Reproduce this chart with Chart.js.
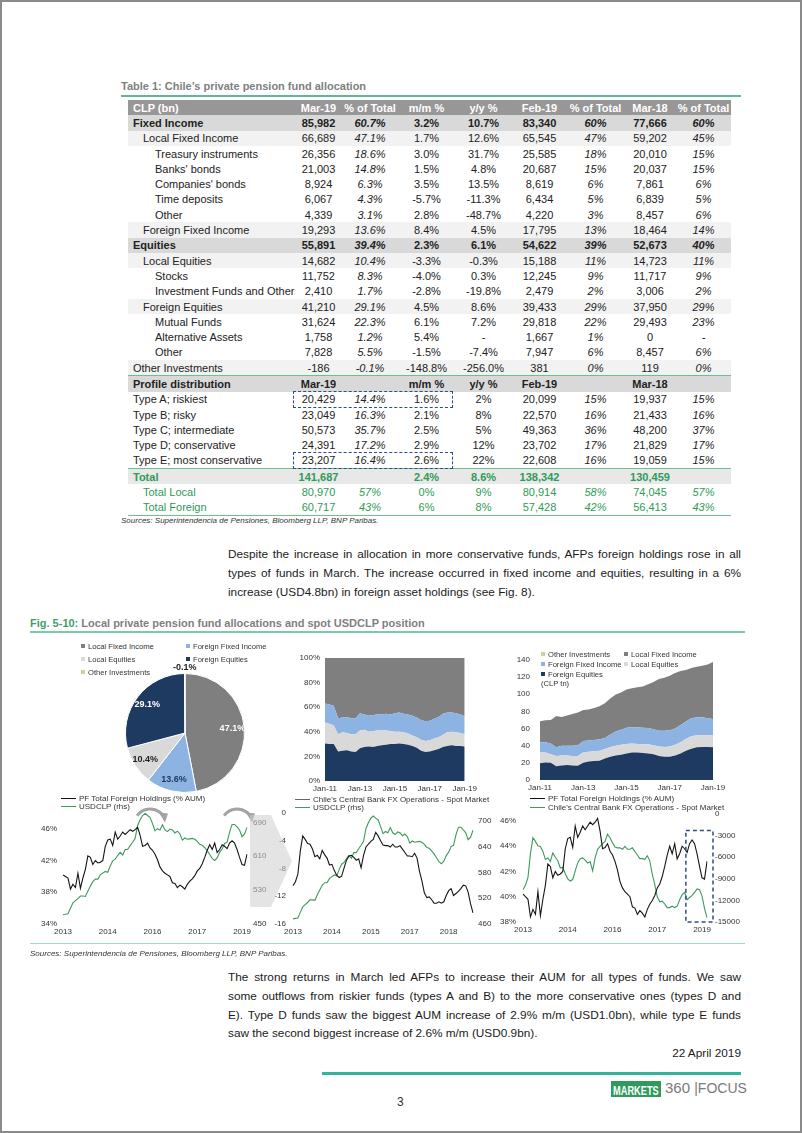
<!DOCTYPE html>
<html>
<head>
<meta charset="utf-8">
<script src="https://cdn.jsdelivr.net/npm/chart.js"></script>
<style>
  html, body { margin: 0; padding: 0; background: #fff; }
  body { width: 802px; height: 1133px; position: relative; overflow: hidden; font-family: "Liberation Sans", Arial, sans-serif; color: #222; }
  .frame { position: absolute; left: 0; top: 0; width: 802px; height: 1133px; box-sizing: border-box; border: 2px solid #8a8a8a; pointer-events: none; }
  .abs { position: absolute; }
  .title { font-size: 11px; font-weight: bold; color: #7f7f7f; }
  .rule { position: absolute; height: 2px; background: #5cb89a; }
  .src { font-size: 8px; font-style: italic; color: #333; }
  .para { font-size: 11.8px; line-height: 18.8px; color: #1a1a1a; }
  .para div { text-align: justify; text-align-last: justify; white-space: nowrap; }
  .para div.end { text-align-last: left; }
  table.t { position: absolute; left: 128px; top: 100px; border-collapse: collapse; table-layout: fixed; width: 603px; font-size: 11px; }
  table.t td { padding: 0; height: 15.3px; line-height: 14px; text-align: center; white-space: nowrap; overflow: hidden; }
  table.t td.lab { text-align: left; padding-left: 5px; }
  .lg { position: absolute; font-size: 7.6px; color: #333; white-space: nowrap; line-height: 10px; }
  .lg.b { font-size: 8px; }
  .sq { display: inline-block; width: 4px; height: 4px; margin-right: 3px; vertical-align: 1px; }
  .ln { display: inline-block; width: 15px; height: 0; border-top: 1.5px solid #111; margin-right: 3px; vertical-align: 2px; }
  .box { position: absolute; border: 1px dashed #2c4d86; }
  canvas { display: block; }
</style>
</head>
<body>
<div class="frame"></div>

<div class="abs title" style="left:121px; top:80px;">Table 1: Chile’s private pension fund allocation</div>
<div class="rule" style="left:121px; top:95px; width:620px;"></div>
<table class="t" id="tbl"></table>
<div class="box" style="left:293px; top:391px; width:158px; height:15px;"></div>
<div class="box" style="left:293px; top:452px; width:158px; height:15px;"></div>
<div class="abs src" style="left:121px; top:516px;">Sources: Superintendencia de Pensiones, Bloomberg LLP, BNP Paribas.</div>

<div class="abs para" style="left:228px; top:545px; width:513px;">
  <div>Despite the increase in allocation in more conservative funds, AFPs foreign holdings rose in all</div>
  <div>types of funds in March. The increase occurred in fixed income and equities, resulting in a 6%</div>
  <div class="end">increase (USD4.8bn) in foreign asset holdings (see Fig. 8).</div>
</div>

<div class="abs title" style="left:30px; top:617px;"><span style="color:#3f9f6a">Fig. 5-10:</span> Local private pension fund allocations and spot USDCLP position</div>
<div class="rule" style="left:30px; top:631px; width:715px; background:#7cc9b0;"></div>

<!-- charts -->
<div class="abs" style="left:115px; top:663px;"><canvas id="pie" width="140" height="140"></canvas></div>
<div class="abs" style="left:290px; top:648px;"><canvas id="pct" width="190" height="148"></canvas></div>
<div class="abs" style="left:500px; top:645px;"><canvas id="abs" width="240" height="151"></canvas></div>
<div class="abs" style="left:30px; top:795px;"><canvas id="c4" width="255" height="145"></canvas></div>
<div class="abs" style="left:270px; top:795px;"><canvas id="c5" width="230" height="145"></canvas></div>
<div class="abs" style="left:495px; top:795px;"><canvas id="c6" width="250" height="145"></canvas></div>

<!-- gray arrow between charts -->
<div class="abs" style="left:250px; top:815px; width:42px; height:92px; background:rgba(205,205,205,0.55); clip-path:polygon(0 0,50% 0,100% 50%,50% 100%,0 100%);"></div>

<!-- legends -->
<div class="lg" style="left:81px; top:642px;"><span class="sq" style="background:#7f7f7f"></span>Local Fixed Income</div>
<div class="lg" style="left:186px; top:642px;"><span class="sq" style="background:#8db3e2"></span>Foreign Fixed Income</div>
<div class="lg" style="left:81px; top:655px;"><span class="sq" style="background:#d9d9d9"></span>Local Equities</div>
<div class="lg" style="left:186px; top:655px;"><span class="sq" style="background:#1f3a60"></span>Foreign Equities</div>
<div class="lg" style="left:81px; top:668px;"><span class="sq" style="background:#c3d69b"></span>Other Investments</div>

<div class="lg" style="left:541px; top:650px;"><span class="sq" style="background:#c3d69b"></span>Other Investments</div>
<div class="lg" style="left:624px; top:650px;"><span class="sq" style="background:#7f7f7f"></span>Local Fixed Income</div>
<div class="lg" style="left:541px; top:660px;"><span class="sq" style="background:#8db3e2"></span>Foreign Fixed Income</div>
<div class="lg" style="left:624px; top:660px;"><span class="sq" style="background:#d9d9d9"></span>Local Equities</div>
<div class="lg" style="left:541px; top:670px;"><span class="sq" style="background:#1f3a60"></span>Foreign Equities</div>
<div class="lg" style="left:541px; top:679px;">(CLP tn)</div>

<div class="lg b" style="left:61px; top:794px;"><span class="ln"></span>PF Total Foreign Holdings (% AUM)</div>
<div class="lg b" style="left:61px; top:802px;"><span class="ln" style="border-color:#3e9a5e"></span>USDCLP (rhs)</div>
<div class="lg b" style="left:295px; top:795px;"><span class="ln" style="border-color:#666"></span>Chile's Central Bank FX Operations - Spot Market</div>
<div class="lg b" style="left:295px; top:803px;"><span class="ln" style="border-color:#3e9a5e"></span>USDCLP (rhs)</div>
<div class="lg b" style="left:530px; top:794px;"><span class="ln"></span>PF Total Foreign Holdings (% AUM)</div>
<div class="lg b" style="left:530px; top:803px;"><span class="ln" style="border-color:#3e9a5e"></span>Chile's Central Bank FX Operations - Spot Market</div>

<div class="rule" style="left:30px; top:943px; width:715px; height:1px; background:#9fd8c4;"></div>
<div class="abs src" style="left:30px; top:949px;">Sources: Superintendencia de Pensiones, Bloomberg LLP, BNP Paribas.</div>

<div class="abs para" style="left:228px; top:968px; width:513px;">
  <div>The strong returns in March led AFPs to increase their AUM for all types of funds. We saw</div>
  <div>some outflows from riskier funds (types A and B) to the more conservative ones (types D and</div>
  <div>E). Type D funds saw the biggest AUM increase of 2.9% m/m (USD1.0bn), while type E funds</div>
  <div class="end">saw the second biggest increase of 2.6% m/m (USD0.9bn).</div>
</div>
<div class="abs" style="left:600px; top:1046px; width:141px; text-align:right; font-size:11.8px;">22 April 2019</div>
<div class="rule" style="left:322px; top:1072px; width:419px; height:3px; background:#34b39a;"></div>
<div class="abs" style="left:611px; top:1081px; width:50px; height:16px; background:#2e9a5c; overflow:hidden;">
  <span style="display:inline-block; color:#fff; font-weight:bold; font-size:12.5px; line-height:16px; transform:scaleX(0.74); transform-origin:0 0; margin-left:2px;">MARKETS</span>
</div>
<div class="abs" style="left:665px; top:1079px; font-size:15px; color:#7a7a7a;">360 <span style="font-size:14px;">|FOCUS</span></div>
<div class="abs" style="left:397px; top:1095px; font-size:12px; color:#333;">3</div>

<script>
// ---- table ----
var tableRows = [
  ['h','CLP (bn)','Mar-19','% of Total','m/m %','y/y %','Feb-19','% of Total','Mar-18','% of Total'],
  ['b','Fixed Income','85,982','60.7%','3.2%','10.7%','83,340','60%','77,666','60%'],
  ['l1','Local Fixed Income','66,689','47.1%','1.7%','12.6%','65,545','47%','59,202','45%'],
  ['l2','Treasury instruments','26,356','18.6%','3.0%','31.7%','25,585','18%','20,010','15%'],
  ['l2',"Banks' bonds",'21,003','14.8%','1.5%','4.8%','20,687','15%','20,037','15%'],
  ['l2',"Companies' bonds",'8,924','6.3%','3.5%','13.5%','8,619','6%','7,861','6%'],
  ['l2','Time deposits','6,067','4.3%','-5.7%','-11.3%','6,434','5%','6,839','5%'],
  ['l2','Other','4,339','3.1%','2.8%','-48.7%','4,220','3%','8,457','6%'],
  ['l1','Foreign Fixed Income','19,293','13.6%','8.4%','4.5%','17,795','13%','18,464','14%'],
  ['b','Equities','55,891','39.4%','2.3%','6.1%','54,622','39%','52,673','40%'],
  ['l1','Local Equities','14,682','10.4%','-3.3%','-0.3%','15,188','11%','14,723','11%'],
  ['l2','Stocks','11,752','8.3%','-4.0%','0.3%','12,245','9%','11,717','9%'],
  ['l2','Investment Funds and Others','2,410','1.7%','-2.8%','-19.8%','2,479','2%','3,006','2%'],
  ['l1','Foreign Equities','41,210','29.1%','4.5%','8.6%','39,433','29%','37,950','29%'],
  ['l2','Mutual Funds','31,624','22.3%','6.1%','7.2%','29,818','22%','29,493','23%'],
  ['l2','Alternative Assets','1,758','1.2%','5.4%','-','1,667','1%','0','-'],
  ['l2','Other','7,828','5.5%','-1.5%','-7.4%','7,947','6%','8,457','6%'],
  ['o','Other Investments','-186','-0.1%','-148.8%','-256.0%','381','0%','119','0%'],
  ['p','Profile distribution','Mar-19','','m/m %','y/y %','Feb-19','','Mar-18',''],
  ['t','Type A; riskiest','20,429','14.4%','1.6%','2%','20,099','15%','19,937','15%'],
  ['t','Type B; risky','23,049','16.3%','2.1%','8%','22,570','16%','21,433','16%'],
  ['t','Type C; intermediate','50,573','35.7%','2.5%','5%','49,363','36%','48,200','37%'],
  ['t','Type D; conservative','24,391','17.2%','2.9%','12%','23,702','17%','21,829','17%'],
  ['t','Type E; most conservative','23,207','16.4%','2.6%','22%','22,608','16%','19,059','15%'],
  ['T','Total','141,687','','2.4%','8.6%','138,342','','130,459',''],
  ['g','Total Local','80,970','57%','0%','9%','80,914','58%','74,045','57%'],
  ['g','Total Foreign','60,717','43%','6%','8%','57,428','42%','56,413','43%']
];
var colWidths = [167, 47, 56, 57, 57, 55, 57, 52, 55];
var pctCols = [3, 7, 9];

var html = '<colgroup>';
colWidths.forEach(function(w){ html += '<col style="width:' + w + 'px">'; });
html += '</colgroup>';
tableRows.forEach(function(r){
  var kind = r[0];
  var bg = '#fff', col = '#222', weight = 'normal', indent = 5, border = '';
  if (kind == 'h') { bg = '#979797'; col = '#fff'; weight = 'bold'; }
  if (kind == 'b') { bg = '#d9d9d9'; weight = 'bold'; }
  if (kind == 'l1') { bg = '#f2f2f2'; indent = 15; }
  if (kind == 'l2') { indent = 27; }
  if (kind == 'o') { bg = '#f2f2f2'; }
  if (kind == 'p') { bg = '#d9d9d9'; weight = 'bold'; border = 'border-top:1.5px solid #6cbf8f;'; }
  if (kind == 'T') { bg = '#e8e8e8'; weight = 'bold'; col = '#2e9b57'; border = 'border-top:1.5px solid #6cbf8f;'; }
  if (kind == 'g') { col = '#2e9b57'; indent = 15; }
  var last = (r[1] == 'Total Foreign') ? 'border-bottom:1.5px solid #6cbf8f;' : '';
  html += '<tr style="background:' + bg + ';color:' + col + ';font-weight:' + weight + ';' + border + last + '">';
  for (var c = 1; c < r.length; c++) {
    var st = '';
    if (c == 1) st = 'padding-left:' + indent + 'px;';
    if (pctCols.indexOf(c) >= 0 && kind != 'h' && kind != 'p') st += 'font-style:italic;';
    html += '<td class="' + (c == 1 ? 'lab' : '') + '" style="' + st + '">' + r[c] + '</td>';
  }
  html += '</tr>';
});
document.getElementById('tbl').innerHTML = html;

// ---- chart data ----
var pieLabels = ['Local Fixed Income','Foreign Fixed Income','Local Equities','Foreign Equities','Other Investments'];
var pieValues = [47.1, 13.6, 10.4, 29.1, -0.1];
var pieColors = ['#7f7f7f','#8db3e2','#d9d9d9','#1f3a60','#c3d69b'];
var pieTextColors = ['#fff','#1f3a60','#222','#fff','#222'];

var quarterLabels = ['Jan-11','Apr-11','Jul-11','Oct-11','Jan-12','Apr-12','Jul-12','Oct-12','Jan-13','Apr-13','Jul-13','Oct-13',
  'Jan-14','Apr-14','Jul-14','Oct-14','Jan-15','Apr-15','Jul-15','Oct-15','Jan-16','Apr-16','Jul-16','Oct-16',
  'Jan-17','Apr-17','Jul-17','Oct-17','Jan-18','Apr-18','Jul-18','Oct-18','Jan-19'];

// % of AUM, stacked
var pctForeignEq = [30.5,30.0,30.0,24.0,24.5,25.0,24.0,23.5,26.5,27.5,28.0,27.5,28.5,29.0,29.5,30.0,30.0,30.5,30.0,29.5,28.5,27.0,24.5,23.5,24.0,25.0,26.0,27.5,28.5,29.0,28.5,28.5,28.0];
var pctLocalEq   = [17.0,16.5,15.0,14.0,15.0,14.0,14.0,14.5,14.5,14.0,12.0,13.0,12.5,12.0,11.5,10.5,10.0,9.5,9.5,9.0,8.5,8.5,9.0,9.0,9.0,9.5,9.5,10.0,11.0,11.0,11.0,10.5,10.0];
var pctForeignFI = [15.5,15.5,16.0,13.0,12.0,13.0,13.0,13.0,14.0,12.5,13.0,13.0,13.0,13.0,13.5,13.5,15.0,15.5,15.0,15.5,16.0,16.0,16.0,16.0,16.0,16.0,16.5,17.0,16.0,15.5,15.5,15.0,14.5];
var pctLocalFI   = [37.0,38.0,39.0,49.0,48.5,48.0,49.0,49.0,45.0,46.0,47.0,46.5,46.0,46.0,45.5,46.0,45.0,44.5,45.5,46.0,47.0,48.5,50.5,51.5,51.0,49.5,48.0,45.5,44.5,44.5,45.0,46.0,47.5];
var pctTicks = [0, 20, 40, 60, 80, 100];

// CLP tn, stacked
var clpForeignEq = [19.5,20.5,20.0,16.0,17.0,17.5,17.0,16.5,20.0,21.5,22.0,22.5,25.0,27.0,28.5,29.5,31.0,32.0,32.0,31.5,31.0,30.0,28.0,27.0,27.0,28.5,31.0,34.0,36.5,38.0,38.5,38.5,38.0];
var clpLocalEq   = [12.5,11.5,10.0,12.0,11.5,11.0,11.0,11.5,12.0,11.5,11.5,11.5,11.0,11.5,11.5,11.5,11.0,10.5,10.0,10.0,10.5,10.5,11.0,11.5,12.0,12.5,13.0,14.0,14.5,14.0,14.0,13.5,14.0];
var clpForeignFI = [12.0,12.0,12.5,10.0,11.5,11.5,12.0,12.5,13.5,13.0,13.0,13.5,13.0,14.5,16.5,17.5,19.0,19.0,19.5,19.5,19.0,18.5,18.5,19.0,19.0,19.0,20.0,20.0,21.0,21.0,20.5,20.0,19.0];
var clpLocalFI   = [24.5,25.5,27.5,36.5,33.5,35.0,37.0,38.0,36.0,36.0,37.5,38.5,40.5,42.0,43.0,43.5,44.5,45.5,46.5,48.0,51.0,55.0,60.0,61.5,63.5,64.5,63.0,60.0,58.5,59.0,60.0,62.5,66.5];
var clpTicks = [0, 20, 40, 60, 80, 100, 120, 140];

// monthly Jan-13 .. Mar-19
var monthNames = ['Jan','Feb','Mar','Apr','May','Jun','Jul','Aug','Sep','Oct','Nov','Dec'];
var monthLabels = [];
for (var yy = 13; yy <= 19; yy++) {
  for (var mm = 0; mm < 12; mm++) {
    if (monthLabels.length < 75) monthLabels.push(monthNames[mm] + '-' + yy);
  }
}
var pfForeign = [40.2,40.0,39.8,38.4,39.0,38.6,40.4,38.5,39.8,40.9,42.6,42.4,41.5,42.0,41.7,41.8,42.0,43.8,44.6,44.7,
  43.9,45.6,44.7,45.1,45.6,45.3,45.6,45.9,45.7,45.9,46.2,45.2,43.8,43.9,44.2,43.6,43.3,42.8,42.1,41.2,
  40.7,40.4,40.2,40.0,39.2,39.1,38.6,38.9,38.7,38.4,39.0,39.4,39.7,40.1,40.7,41.0,41.6,42.4,43.3,44.0,
  43.4,44.2,43.0,43.4,44.0,43.8,43.5,44.2,44.5,44.2,43.4,42.4,41.5,41.4,42.8];
var usdclp = [472,473,474,487,500,505,510,516,516,515,528,539,550,556,556,566,570,574,572,587,
  599,603,612,619,613,626,626,635,643,652,682,696,706,711,706,702,687,670,675,672,
  684,672,668,674,672,665,669,663,648,653,650,651,652,650,645,638,636,630,623,614,
  605,600,606,619,627,640,643,667,685,685,679,672,656,662,678];
// USD bn
var cbFx = [-10.5,-9.9,-8.8,-5.5,-3.3,-3.8,-4.4,-4.5,-5.2,-6.3,-6.1,-6.6,-5.4,-6.0,-6.5,-7.5,-7.4,-8.3,-9.0,-9.3,
  -9.1,-7.9,-6.8,-6.2,-6.1,-6.4,-6.8,-6.6,-7.9,-6.1,-4.9,-4.5,-4.1,-3.8,-2.8,-3.3,-4.0,-4.6,-4.7,-4.7,
  -4.9,-4.5,-4.9,-4.9,-4.7,-5.2,-5.7,-6.2,-6.2,-6.3,-5.8,-6.5,-8.4,-9.8,-11.5,-12.2,-12.1,-12.5,-13.0,-13.0,
  -12.8,-13.0,-12.8,-11.9,-11.2,-10.9,-11.9,-11.6,-11.3,-10.9,-10.4,-10.5,-11.4,-13.1,-14.4];

var c4LeftTicks = [34, 38, 42, 46];
var c4RightTicks = [450, 530, 610, 690];
var c5LeftTicks = [-16, -12, -8, -4, 0];
var c5RightTicks = [460, 520, 580, 640, 700];
var c6LeftTicks = [38, 40, 42, 44, 46];
var c6RightTicks = [-15, -12, -9, -6, -3, 0];

var peakArrows = [35, 70];      // month indices marked with curved arrows (chart 4)
var boxStartMonth = 65.5;       // highlighted period (chart 6)
var boxTopValue = -2.3;

// ---- common ----
Chart.defaults.font.family = '"Liberation Sans", Arial, sans-serif';
Chart.defaults.font.size = 8;
Chart.defaults.color = '#333';
Chart.defaults.animation = false;

var GREEN = '#3e9a5e';
var BLACK = '#151515';

function fixW(w){ return function(s){ s.width = w; }; }
function fixH(h){ return function(s){ s.height = h; }; }
function setTicks(arr){ return function(s){ s.ticks = arr.map(function(v){ return { value: v }; }); }; }
var noGrid = { display: false, drawTicks: false };
var noBorder = { display: false };

// pie
var pieLabelPlugin = {
  id: 'pieLabelPlugin',
  afterDatasetsDraw: function(chart) {
    var ctx = chart.ctx;
    var meta = chart.getDatasetMeta(0);
    ctx.save();
    ctx.font = 'bold 9px "Liberation Sans", Arial';
    ctx.textAlign = 'center';
    ctx.textBaseline = 'middle';
    meta.data.forEach(function(arc, i){
      var a = (arc.startAngle + arc.endAngle) / 2;
      var r = pieValues[i] < 0 ? arc.outerRadius + 6 : arc.outerRadius * 0.8;
      ctx.fillStyle = pieTextColors[i];
      ctx.fillText(pieValues[i].toFixed(1) + '%', arc.x + Math.cos(a) * r, arc.y + Math.sin(a) * r);
    });
    ctx.restore();
  }
};

new Chart(document.getElementById('pie'), {
  type: 'pie',
  data: { labels: pieLabels, datasets: [{ data: pieValues, backgroundColor: pieColors, borderColor: '#fff', borderWidth: 1 }] },
  options: {
    responsive: false,
    layout: { padding: 10 },
    plugins: { legend: { display: false }, tooltip: { enabled: false } }
  },
  plugins: [pieLabelPlugin]
});

function areaSet(label, data, color, fill) {
  return { label: label, data: data, backgroundColor: color, borderColor: color, borderWidth: 0, pointRadius: 0, fill: fill, tension: 0 };
}
function quarterTicks() {
  return { autoSkip: false, maxRotation: 0, padding: 3, callback: function(v, i){ return i % 8 === 0 ? quarterLabels[i] : null; } };
}

new Chart(document.getElementById('pct'), {
  type: 'line',
  data: {
    labels: quarterLabels,
    datasets: [
      areaSet('Foreign Equities', pctForeignEq, '#1f3a60', 'origin'),
      areaSet('Local Equities', pctLocalEq, '#d9d9d9', '-1'),
      areaSet('Foreign Fixed Income', pctForeignFI, '#8db3e2', '-1'),
      areaSet('Local Fixed Income', pctLocalFI, '#7f7f7f', '-1')
    ]
  },
  options: {
    responsive: false,
    layout: { padding: { top: 9, right: 10, left: 0, bottom: 0 } },
    plugins: { legend: { display: false }, tooltip: { enabled: false } },
    scales: {
      x: { grid: noGrid, border: noBorder, afterFit: fixH(15), ticks: quarterTicks() },
      y: { stacked: true, min: 0, max: 100, grid: noGrid, border: noBorder, afterFit: fixW(35), afterBuildTicks: setTicks(pctTicks),
           ticks: { padding: 5, callback: function(v){ return v + '%'; } } }
    }
  }
});

new Chart(document.getElementById('abs'), {
  type: 'line',
  data: {
    labels: quarterLabels,
    datasets: [
      areaSet('Foreign Equities', clpForeignEq, '#1f3a60', 'origin'),
      areaSet('Local Equities', clpLocalEq, '#d9d9d9', '-1'),
      areaSet('Foreign Fixed Income', clpForeignFI, '#8db3e2', '-1'),
      areaSet('Local Fixed Income', clpLocalFI, '#7f7f7f', '-1')
    ]
  },
  options: {
    responsive: false,
    layout: { padding: { top: 12, right: 27, left: 0, bottom: 0 } },
    plugins: { legend: { display: false }, tooltip: { enabled: false } },
    scales: {
      x: { grid: noGrid, border: noBorder, afterFit: fixH(16), ticks: quarterTicks() },
      y: { stacked: true, min: 0, max: 140, grid: noGrid, border: noBorder, afterFit: fixW(40), afterBuildTicks: setTicks(clpTicks),
           ticks: { padding: 10 } }
    }
  }
});

function lineSet(label, data, color, axis) {
  return { label: label, data: data, borderColor: color, backgroundColor: color, borderWidth: 1.1, pointRadius: 0, fill: false, tension: 0, yAxisID: axis };
}
function yearTicks(every) {
  return { autoSkip: false, maxRotation: 0, padding: 3,
           callback: function(v, i){ return i % every === 0 ? '20' + monthLabels[i].slice(-2) : null; } };
}

// curved arrows over USDCLP peaks
var arrowPlugin = {
  id: 'arrowPlugin',
  afterDraw: function(chart) {
    var ctx = chart.ctx, x = chart.scales.x, area = chart.chartArea;
    ctx.save();
    ctx.strokeStyle = '#a3a3a3';
    ctx.fillStyle = '#a3a3a3';
    ctx.lineWidth = 3;
    peakArrows.forEach(function(idx){
      var cx = x.getPixelForValue(idx), cy = area.top + 12, r = 16;
      var a0 = Math.PI * 1.2, a1 = Math.PI * 1.8;
      ctx.beginPath();
      ctx.arc(cx, cy, r, a0, a1);
      ctx.stroke();
      var ex = cx + Math.cos(a1) * r, ey = cy + Math.sin(a1) * r;
      ctx.beginPath();
      ctx.moveTo(ex - 4, ey - 3);
      ctx.lineTo(ex + 5, ey - 2);
      ctx.lineTo(ex + 2, ey + 7);
      ctx.closePath();
      ctx.fill();
    });
    ctx.restore();
  }
};

new Chart(document.getElementById('c4'), {
  type: 'line',
  data: { labels: monthLabels, datasets: [
    lineSet('PF Total Foreign Holdings (% AUM)', pfForeign, BLACK, 'y'),
    lineSet('USDCLP (rhs)', usdclp, GREEN, 'y2')
  ] },
  options: {
    responsive: false,
    layout: { padding: { top: 18, left: 0, right: 0, bottom: 0 } },
    plugins: { legend: { display: false }, tooltip: { enabled: false } },
    scales: {
      x: { grid: noGrid, border: noBorder, afterFit: fixH(16), ticks: yearTicks(18) },
      y: { position: 'left', min: 34, max: 48, grid: noGrid, border: noBorder, afterFit: fixW(33), afterBuildTicks: setTicks(c4LeftTicks),
           ticks: { padding: 6, callback: function(v){ return v + '%'; } } },
      y2: { position: 'right', min: 450, max: 712, grid: noGrid, border: noBorder, afterFit: fixW(38), afterBuildTicks: setTicks(c4RightTicks),
           ticks: { padding: 6 } }
    }
  },
  plugins: [arrowPlugin]
});

new Chart(document.getElementById('c5'), {
  type: 'line',
  data: { labels: monthLabels, datasets: [
    lineSet("Chile's Central Bank FX Operations - Spot Market", cbFx, BLACK, 'y'),
    lineSet('USDCLP (rhs)', usdclp, GREEN, 'y2')
  ] },
  options: {
    responsive: false,
    layout: { padding: { top: 18, left: 0, right: 0, bottom: 0 } },
    plugins: { legend: { display: false }, tooltip: { enabled: false } },
    scales: {
      x: { grid: noGrid, border: noBorder, afterFit: fixH(16), ticks: yearTicks(16) },
      y: { position: 'left', min: -16, max: 0, grid: noGrid, border: noBorder, afterFit: fixW(23), afterBuildTicks: setTicks(c5LeftTicks),
           ticks: { padding: 7 } },
      y2: { position: 'right', min: 460, max: 718, grid: noGrid, border: noBorder, afterFit: fixW(27), afterBuildTicks: setTicks(c5RightTicks),
           ticks: { padding: 5 } }
    }
  }
});

var boxPlugin = {
  id: 'boxPlugin',
  afterDraw: function(chart) {
    var ctx = chart.ctx, x = chart.scales.x, y2 = chart.scales.y2, area = chart.chartArea;
    var x0 = x.getPixelForValue(boxStartMonth), x1 = area.right + 6;
    var y0 = y2.getPixelForValue(boxTopValue), y1 = area.bottom;
    ctx.save();
    ctx.strokeStyle = '#2c4d86';
    ctx.lineWidth = 1.5;
    ctx.setLineDash([4, 3]);
    ctx.strokeRect(x0, y0, x1 - x0, y1 - y0);
    ctx.restore();
  }
};

new Chart(document.getElementById('c6'), {
  type: 'line',
  data: { labels: monthLabels, datasets: [
    lineSet('PF Total Foreign Holdings (% AUM)', pfForeign, BLACK, 'y'),
    lineSet("Chile's Central Bank FX Operations - Spot Market", cbFx, GREEN, 'y2')
  ] },
  options: {
    responsive: false,
    layout: { padding: { top: 19, left: 0, right: 0, bottom: 0 } },
    plugins: { legend: { display: false }, tooltip: { enabled: false } },
    scales: {
      x: { grid: noGrid, border: noBorder, afterFit: fixH(18), ticks: yearTicks(18) },
      y: { position: 'left', min: 38, max: 46.55, grid: noGrid, border: noBorder, afterFit: fixW(28), afterBuildTicks: setTicks(c6LeftTicks),
           ticks: { padding: 7, callback: function(v){ return v + '%'; } } },
      y2: { position: 'right', min: -15, max: 0, grid: noGrid, border: noBorder, afterFit: fixW(38), afterBuildTicks: setTicks(c6RightTicks),
           ticks: { padding: 8, callback: function(v){ return String(Math.round(v * 1000)); } } }
    }
  },
  plugins: [boxPlugin]
});
</script>
</body>
</html>
